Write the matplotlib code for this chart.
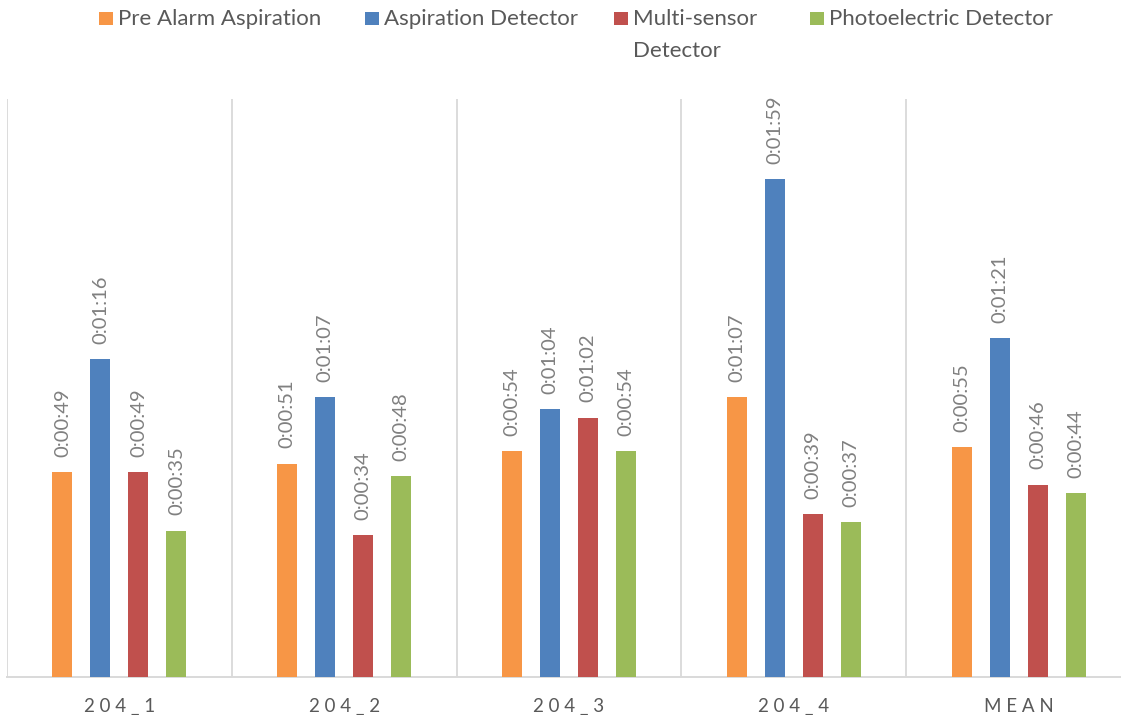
import matplotlib
matplotlib.use("Agg")
import matplotlib.pyplot as plt
from matplotlib.patches import Rectangle
import numpy as np

# Detection times (seconds) per test and detector type
categories = ["204_1", "204_2", "204_3", "204_4", "MEAN"]
series_names = ["Pre Alarm Aspiration", "Aspiration Detector",
                 "Multi-sensor\nDetector", "Photoelectric Detector"]
pre_alarm_aspiration = [49, 51, 54, 67, 55]
aspiration_detector = [76, 67, 64, 119, 81]
multi_sensor_detector = [49, 34, 62, 39, 46]
photoelectric_detector = [35, 48, 54, 37, 44]
series_values = [pre_alarm_aspiration, aspiration_detector,
                 multi_sensor_detector, photoelectric_detector]
colors = ["#F79646", "#4F81BD", "#C0504D", "#9BBB59"]

# axis upper limit: 0.0016 day expressed in seconds
y_max = 0.0016 * 86400

FONT = "Lato"
W, H = 1121, 715
fig = plt.figure(figsize=(W / 100, H / 100), dpi=100)
fig.patch.set_facecolor("white")

# plot area in pixels (left, top, right, bottom); extends past the right edge
left_px, top_px, right_px, bottom_px = 7, 99, 1131, 677
ax = fig.add_axes([left_px / W, 1 - bottom_px / H,
                   (right_px - left_px) / W, (bottom_px - top_px) / H])


def fmt_time(sec):
    h, rem = divmod(int(round(sec)), 3600)
    m, s = divmod(rem, 60)
    return f"{h}:{m:02d}:{s:02d}"


n_cat = len(categories)
x = np.arange(n_cat)
pitch = 38 / 224.8
bar_w = 20 / 224.8
for i, (vals, col) in enumerate(zip(series_values, colors)):
    offs = (i - 1.5) * pitch
    bars = ax.bar(x + offs, vals, width=bar_w, color=col, zorder=3)
    for rect, v in zip(bars, vals):
        ax.annotate(fmt_time(v),
                    xy=(rect.get_x() + rect.get_width() / 2, rect.get_height()),
                    xytext=(0, 11), textcoords="offset points",
                    rotation=90, ha="center", va="bottom",
                    fontsize=14.5, color="#808080", family=FONT)

ax.set_xlim(-0.5, n_cat - 0.5)
ax.set_ylim(0, y_max)

# category separators
for b in np.arange(-0.5, n_cat, 1.0):
    ax.axvline(b, color="#D9D9D9", lw=1.3, zorder=1)

for s in ["top", "left", "right"]:
    ax.spines[s].set_visible(False)
ax.spines["bottom"].set_color("#D9D9D9")
ax.spines["bottom"].set_linewidth(1.4)
ax.set_yticks([])
ax.set_xticks(x)
ax.set_xticklabels([" ".join(c) for c in categories], family=FONT,
                   fontsize=13.5, color="#595959")
ax.tick_params(axis="x", length=0, pad=15)

# legend across the top
leg_x = [99, 365, 614, 810]
for name, col, lx in zip(series_names, colors, leg_x):
    fig.add_artist(Rectangle((lx / W, 1 - 25 / H), 14 / W, 13 / H,
                             transform=fig.transFigure, color=col, lw=0))
    fig.text((lx + 19) / W, 1 - 9 / H, name, ha="left", va="top",
             fontsize=16, color="#595959", family=FONT, linespacing=1.72)

fig.savefig("out.png", dpi=100, facecolor="white")
